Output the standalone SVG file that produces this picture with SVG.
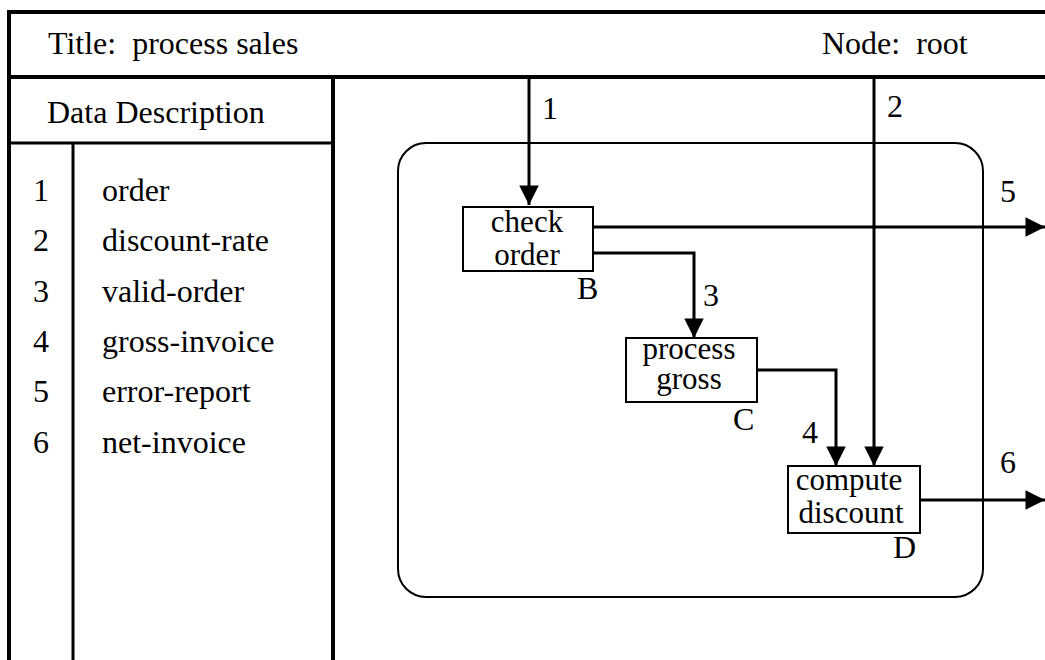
<svg xmlns="http://www.w3.org/2000/svg" width="1045" height="660" viewBox="0 0 1045 660">
<style>
.t{font-family:"Liberation Serif","Times New Roman",serif;fill:#000;white-space:pre}
.big{font-size:32px}
.box{font-size:31px}
.frame{stroke:#000;stroke-width:4;fill:none}
.thin{stroke:#000;stroke-width:3;fill:none}
.node{fill:#fff;stroke:#000;stroke-width:2}
.conn{stroke:#000;stroke-width:3;fill:none}
</style>
<defs>
<marker id="ah" viewBox="0 0 10 10" refX="10" refY="5" markerWidth="7.5" markerHeight="6.5" markerUnits="strokeWidth" orient="auto">
<path d="M0,0 L10,5 L0,10 Z" fill="#000"/>
</marker>
</defs>
<rect width="1045" height="660" fill="#fff"/>
<g id="frame">
<line class="frame" x1="9" y1="12" x2="1045" y2="12"/>
<line class="frame" x1="9" y1="10" x2="9" y2="660"/>
<line class="frame" x1="9" y1="77" x2="1045" y2="77"/>
<line class="frame" x1="333" y1="77" x2="333" y2="660"/>
<line class="thin" x1="9" y1="143" x2="333" y2="143"/>
<line class="thin" x1="73" y1="142" x2="73" y2="660"/>
<text class="t big" x="48" y="54" xml:space="preserve">Title:  process sales</text>
<text class="t big" x="822" y="54" xml:space="preserve">Node:  root</text>
<text class="t big" x="47" y="123">Data Description</text>
</g>
<g id="data-list" class="t big">
<text x="41" y="201" text-anchor="middle">1</text><text x="102" y="201">order</text>
<text x="41" y="251" text-anchor="middle">2</text><text x="102" y="251">discount-rate</text>
<text x="41" y="302" text-anchor="middle">3</text><text x="102" y="302">valid-order</text>
<text x="41" y="352" text-anchor="middle">4</text><text x="102" y="352">gross-invoice</text>
<text x="41" y="402" text-anchor="middle">5</text><text x="102" y="402">error-report</text>
<text x="41" y="453" text-anchor="middle">6</text><text x="102" y="453">net-invoice</text>
</g>
<g id="boundary">
<rect x="398" y="143" width="585" height="454" rx="28" ry="28" fill="none" stroke="#000" stroke-width="2"/>
</g>
<g id="connectors">
<path class="conn" d="M529,75 V205" marker-end="url(#ah)"/>
<path class="conn" d="M874,75 V466" marker-end="url(#ah)"/>
<path class="conn" d="M593,227 H1045" marker-end="url(#ah)"/>
<path class="conn" d="M593,253 H694 V338" marker-end="url(#ah)"/>
<path class="conn" d="M757,370 H836 V466" marker-end="url(#ah)"/>
<path class="conn" d="M920,500 H1045" marker-end="url(#ah)"/>
<text class="t big" x="542" y="119">1</text>
<text class="t big" x="887" y="117">2</text>
<text class="t big" x="703" y="306">3</text>
<text class="t big" x="802" y="443">4</text>
<text class="t big" x="1000" y="202">5</text>
<text class="t big" x="1000" y="473">6</text>
</g>
<g id="node-B">
<rect class="node" x="463" y="207" width="130" height="64"/>
<text class="t box" x="527" y="232" text-anchor="middle">check</text>
<text class="t box" x="527" y="265" text-anchor="middle">order</text>
<text class="t big" x="577" y="299">B</text>
</g>
<g id="node-C">
<rect class="node" x="626" y="338" width="131" height="64"/>
<text class="t box" x="689" y="359" text-anchor="middle">process</text>
<text class="t box" x="689" y="389" text-anchor="middle">gross</text>
<text class="t big" x="733" y="430">C</text>
</g>
<g id="node-D">
<rect class="node" x="788" y="466" width="132" height="67"/>
<text class="t box" x="849" y="490" text-anchor="middle">compute</text>
<text class="t box" x="851" y="523" text-anchor="middle">discount</text>
<text class="t big" x="893" y="558">D</text>
</g>
</svg>
